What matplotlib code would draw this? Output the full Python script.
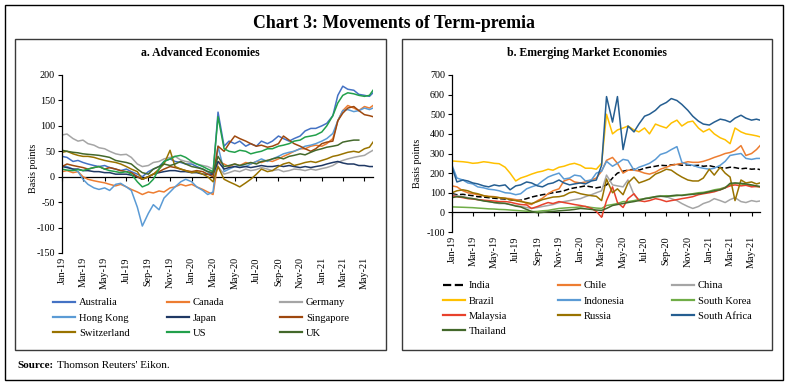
import numpy as np
import pandas as pd
import matplotlib
matplotlib.use("Agg")
import matplotlib.pyplot as plt
import matplotlib.dates as mdates
from matplotlib.patches import Rectangle
from matplotlib.lines import Line2D

plt.rcParams['font.family'] = ['Liberation Serif', 'DejaVu Serif']
plt.rcParams['axes.unicode_minus'] = False

nan = np.nan
# semi-monthly observation dates, Jan 2019 - May 2021
dates = list(pd.date_range('2019-01-01', '2021-05-15', freq='SMS')) + [pd.Timestamp('2021-05-25')]

# ---------------- Panel a: Advanced Economies (basis points) ----------------
australia = [40, 38, 30, 32, 28, 25, 22, 20, 22, 18, 15, 12, 15, 10, 5, 0, 10, 15, 20, 30, 35, 30, 28, 25,
             25, 20, 15, 10, 5, 127, 60, 70, 65, 70, 60, 65, 60, 70, 65, 70, 80, 75, 70, 75, 80, 90, 95, 95,
             100, 105, 120, 160, 178, 172, 170, 162, 160, 158, 165]
canada = [10, 12, 8, 10, 0, -5, -8, -10, -12, -15, -18, -15, -20, -25, -30, -35, -30, -32, -28, -30, -22, -20, -15, -18,
          -15, -20, -25, -30, -35, 30, 25, 20, 25, 22, 28, 25, 30, 28, 32, 30, 35, 40, 45, 50, 55, 55, 60, 62,
          60, 65, 75, 110, 130, 140, 135, 130, 138, 135, 140]
germany = [82, 84, 75, 70, 72, 65, 62, 57, 55, 50, 45, 43, 44, 38, 25, 20, 22, 28, 30, 35, 38, 40, 33, 30,
           28, 25, 22, 20, 15, 20, 5, 8, 12, 10, 15, 12, 14, 18, 15, 12, 14, 10, 12, 15, 14, 12, 15, 13,
           16, 18, 22, 28, 32, 35, 38, 40, 42, 48, 52]
hong_kong = [22, 20, 15, 10, -5, -15, -22, -25, -22, -27, -15, -13, -20, -27, -60, -97, -72, -55, -65, -42, -30, -20, -10, -5,
             -10, -20, -27, -35, -30, 60, 10, 15, 20, 22, 20, 25, 30, 35, 30, 35, 40, 45, 48, 50, 55, 60, 62, 65,
             70, 75, 85, 110, 130, 132, 128, 130, 135, 132, 135]
japan = [20, 18, 15, 15, 12, 12, 10, 10, 8, 8, 5, 5, 5, 3, 0, -5, 0, 5, 8, 10, 12, 12, 10, 10,
         8, 8, 5, 5, 5, 30, 15, 18, 20, 18, 20, 18, 20, 22, 20, 20, 22, 20, 22, 20, 18, 20, 18, 20,
         22, 25, 28, 30, 27, 25, 25, 22, 22, 20, 20]
singapore = [20, 25, 22, 20, 18, 15, 18, 20, 15, 18, 15, 12, 10, 8, 0, -5, 0, 5, 10, 15, 20, 18, 15, 12,
             10, 12, 10, 5, 0, 60, 50, 65, 80, 75, 70, 65, 60, 62, 58, 60, 65, 80, 72, 65, 60, 55, 50, 55,
             65, 68, 70, 110, 125, 135, 138, 130, 122, 120, 118]
switzerland = [48, 50, 45, 42, 40, 40, 38, 35, 32, 30, 28, 25, 20, 15, 10, -5, 0, 5, 15, 25, 52, 20, 15, 12,
               8, 10, 5, 0, -10, 20, -5, -10, -15, -20, -12, -5, 5, 15, 10, 12, 20, 25, 28, 22, 25, 28, 30, 28,
               32, 35, 40, 42, 45, 48, 50, 48, 55, 58, 68]
us = [15, 13, 12, 14, 12, 15, 18, 20, 15, 12, 10, 8, 10, 5, -10, -20, -15, -5, 15, 30, 35, 40, 42, 38,
      30, 25, 20, 15, 10, 118, 55, 50, 48, 52, 50, 45, 48, 50, 55, 55, 60, 62, 65, 70, 72, 78, 80, 82,
      88, 100, 120, 145, 160, 165, 163, 160, 158, 160, 170]
uk = [52, 50, 48, 47, 45, 44, 43, 42, 40, 38, 32, 30, 28, 25, 15, 8, 5, 15, 20, 25, 22, 25, 30, 25,
      20, 18, 15, 10, 8, 40, 20, 22, 25, 22, 25, 28, 25, 30, 32, 35, 38, 35, 40, 42, 45, 43, 48, 52,
      55, 58, 60, 62, 68, 70, 72, 72, nan, nan, nan]

adv_names = ['Australia', 'Canada', 'Germany', 'Hong Kong', 'Japan', 'Singapore', 'Switzerland', 'US', 'UK']
adv_values = [australia, canada, germany, hong_kong, japan, singapore, switzerland, us, uk]
adv_colors = ['#4472C4', '#ED7D31', '#A5A5A5', '#5B9BD5', '#1F3864', '#9E480E', '#997300', '#22A04B', '#43682B']

# ---------------- Panel b: Emerging Market Economies (basis points) ----------------
india = [95, 90, 92, 88, 85, 80, 78, 75, 72, 70, 68, 65, 60, 62, 70, 78, 85, 90, 95, 100, 105, 110, 120, 125,
         130, 135, 130, 125, 130, 140, 175, 200, 210, 215, 220, 215, 225, 230, 235, 240, 238, 242, 245, 240, 242, 238, 240, 235,
         238, 232, 228, 225, 230, 228, 222, 225, 220, 222, 218]
chile = [135, 130, 110, 100, 95, 90, 85, 82, 80, 75, 72, 70, 65, 60, 45, 40, 60, 72, 95, 110, 120, 160, 170, 155,
         150, 155, 165, 175, 210, 265, 280, 250, 200, 215, 215, 210, 200, 195, 205, 220, 230, 240, 245, 250, 258, 255, 255, 260,
         270, 280, 290, 300, 305, 315, 340, 290, 300, 320, 340]
china = [90, 85, 80, 75, 70, 65, 60, 55, 50, 45, 45, 40, 35, 30, 25, 20, 25, 30, 35, 40, 50, 55, 60, 65,
         70, 80, 90, 100, 110, 190, 140, 135, 130, 165, 90, 65, 70, 75, 80, 85, 80, 70, 60, 45, 30, 20, 30, 45,
         55, 70, 60, 50, 65, 75, 55, 50, 60, 55, 58]
brazil = [262, 260, 258, 255, 250, 252, 258, 255, 250, 248, 230, 200, 160, 175, 185, 195, 205, 210, 220, 215, 230, 235, 245, 250,
          240, 225, 225, 220, 250, 500, 400, 420, 430, 440, 420, 410, 430, 400, 450, 440, 430, 455, 470, 440, 460, 465, 430, 410,
          425, 400, 380, 370, 350, 430, 410, 400, 395, 390, 385]
indonesia = [240, 175, 165, 150, 145, 130, 125, 118, 115, 110, 100, 98, 90, 95, 120, 130, 140, 160, 180, 190, 200, 170, 175, 190,
             185, 160, 165, 200, 210, 260, 235, 250, 270, 265, 215, 230, 240, 250, 270, 295, 305, 320, 335, 255, 245, 240, 230, 225,
             220, 225, 240, 260, 290, 295, 300, 275, 270, 275, 275]
south_korea = [28, 27, 26, 25, 24, 22, 20, 18, 17, 15, 14, 12, 10, 8, 6, 4, 5, 8, 10, 15, 20, 22, 24, 25,
               28, 30, 25, 22, 20, 35, 40, 45, 55, 55, 60, 65, 70, 75, 80, 82, 85, 82, 85, 88, 92, 95, 100, 102,
               108, 115, 120, 128, 140, 148, 145, 140, 135, 132, 130]
malaysia = [85, 80, 75, 70, 68, 65, 62, 60, 58, 55, 55, 52, 45, 40, 38, 20, 30, 40, 50, 45, 55, 50, 45, 40,
            35, 30, 20, 5, -25, 60, 130, 50, 25, 70, 95, 60, 55, 60, 70, 65, 55, 60, 65, 70, 75, 80, 90, 95,
            100, 105, 115, 125, 135, 140, 135, 138, 130, 132, 130]
russia = [100, 110, 115, 110, 100, 95, 85, 80, 78, 75, 72, 65, 60, 55, 50, 45, 55, 65, 72, 78, 80, 85, 100, 105,
          95, 90, 85, 82, 60, 170, 100, 120, 90, 150, 180, 150, 160, 170, 195, 205, 220, 215, 195, 180, 165, 160, 160, 175,
          220, 190, 230, 200, 180, 60, 165, 150, 155, 145, 150]
south_africa = [230, 155, 165, 160, 150, 145, 135, 130, 140, 135, 140, 115, 135, 140, 155, 150, 135, 130, 145, 150, 165, 150, 140, 145,
                150, 145, 160, 165, 240, 590, 460, 590, 320, 440, 410, 450, 490, 500, 520, 545, 560, 580, 570, 550, 520, 490, 465, 450,
                445, 460, 475, 470, 460, 480, 495, 480, 470, 475, 470]
thailand = [75, 80, 78, 72, 70, 65, 58, 55, 50, 48, 46, 40, 32, 28, 15, 5, -2, 0, 3, 5, 8, 10, 12, 15,
            20, 18, 15, 12, 10, 20, 35, 40, 45, 50, 55, 60, 70, 72, 80, 82, 80, 85, 88, 86, 90, 92, 95, 98,
            105, 110, 115, 125, 148, 150, 148, 145, 140, 135, 132]

eme_names = ['India', 'Chile', 'China', 'Brazil', 'Indonesia', 'South Korea', 'Malaysia', 'Russia', 'South Africa', 'Thailand']
eme_values = [india, chile, china, brazil, indonesia, south_korea, malaysia, russia, south_africa, thailand]
eme_colors = ['#000000', '#ED7D31', '#A5A5A5', '#FFC000', '#5B9BD5', '#70AD47', '#E8412C', '#997300', '#255E91', '#43682B']

tick_dates = pd.date_range('2019-01-01', '2021-05-01', freq='2MS')

W, H = 788, 385
fig = plt.figure(figsize=(W / 100, H / 100), dpi=100)


def fx(px):
    return px / W


def fy(py):
    return 1 - py / H


# frames
fig.add_artist(Rectangle((fx(5), fy(380)), fx(778), 375 / H, transform=fig.transFigure,
                         fill=False, edgecolor='black', lw=1.0))
for x0, w0 in [(15, 371), (402, 370)]:
    fig.add_artist(Rectangle((fx(x0), fy(350)), fx(w0), 311 / H, transform=fig.transFigure,
                             fill=False, edgecolor='#3a3a3a', lw=1.0))

fig.text(0.5, fy(24), 'Chart 3: Movements of Term-premia', ha='center', va='center',
         fontsize=12.8, fontweight='bold')
fig.text(fx(200), fy(53), 'a. Advanced Economies', ha='center', va='center', fontsize=8.5, fontweight='bold')
fig.text(fx(587), fy(53), 'b. Emerging Market Economies', ha='center', va='center', fontsize=8.5, fontweight='bold')
fig.text(fx(17), fy(365), 'Source:', ha='left', va='center', fontsize=8, fontweight='bold')
fig.text(fx(57), fy(365), "Thomson Reuters' Eikon.", ha='left', va='center', fontsize=8)

fig.text(fx(33), fy(168), 'Basis points', rotation=90, ha='center', va='center', fontsize=7.3)
fig.text(fx(418), fy(163), 'Basis points', rotation=90, ha='center', va='center', fontsize=7.3)


def setup_axis(ax, ylo, yhi, ystep):
    ax.set_ylim(ylo, yhi)
    ax.set_yticks(np.arange(ylo, yhi + 1, ystep))
    ax.set_xlim(dates[0], dates[-1])
    for s in ['top', 'right', 'bottom']:
        ax.spines[s].set_visible(False)
    ax.spines['left'].set_linewidth(0.9)
    ax.tick_params(axis='y', direction='out', length=3, width=0.8, labelsize=7.3, pad=2)
    ax.set_xticks(mdates.date2num(tick_dates))
    ax.set_xticklabels([d.strftime('%b-%y') for d in tick_dates], rotation=90, fontsize=7.3)
    ax.tick_params(axis='x', length=0, pad=3)
    ax.patch.set_visible(False)
    loc = (0 - ylo) / (yhi - ylo)
    sec = ax.secondary_xaxis(loc)
    sec.set_xticks(mdates.date2num(tick_dates))
    sec.tick_params(axis='x', direction='out', length=3, width=0.8, labelbottom=False, labeltop=False)
    sec.spines['bottom'].set_linewidth(0.9)


axA = fig.add_axes([fx(62), fy(253), fx(311), 178 / H])
for name, vals, col in zip(adv_names, adv_values, adv_colors):
    axA.plot(dates, vals, color=col, lw=1.1, label=name)
setup_axis(axA, -150, 200, 50)

axB = fig.add_axes([fx(452), fy(232), fx(308), 157 / H])
for name, vals, col in zip(eme_names, eme_values, eme_colors):
    ls = '--' if name == 'India' else '-'
    axB.plot(dates, vals, color=col, lw=1.1, ls=ls, label=name)
setup_axis(axB, -100, 700, 100)


def column_legend(ax, names, x_px, y_px):
    lines = {l.get_label(): l for l in ax.get_lines()}
    handles = [Line2D([], [], color=lines[n].get_color(), ls=lines[n].get_linestyle(), lw=1.6) for n in names]
    leg = fig.legend(handles, names, loc='upper left', bbox_to_anchor=(fx(x_px), fy(y_px)),
                     frameon=False, fontsize=7.6, handlelength=2.1, handletextpad=0.35,
                     labelspacing=0.55, borderpad=0, borderaxespad=0)
    return leg


rows_a = [adv_names[i:i + 3] for i in range(0, 9, 3)]
for c, xp in enumerate([53, 167, 280]):
    column_legend(axA, [r[c] for r in rows_a], xp, 298)

rows_b = [eme_names[i:i + 3] for i in range(0, 10, 3)]
for c, xp in enumerate([443, 558, 672]):
    column_legend(axB, [r[c] for r in rows_b if len(r) > c], xp, 281)

fig.savefig('out.png', dpi=100)
